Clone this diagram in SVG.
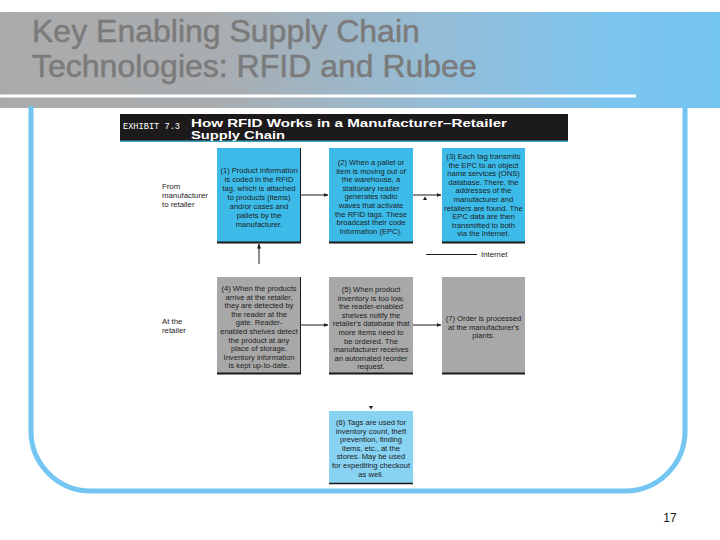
<svg xmlns="http://www.w3.org/2000/svg" width="720" height="540" viewBox="0 0 720 540">
<defs>
<linearGradient id="hdr" x1="0" y1="0" x2="1" y2="0">
<stop offset="0" stop-color="#aaaaaa"/>
<stop offset="0.3" stop-color="#a9adb0"/>
<stop offset="0.6" stop-color="#95bcd6"/>
<stop offset="0.85" stop-color="#7cc4ee"/>
<stop offset="1" stop-color="#74c4f1"/>
</linearGradient>
<marker id="ah" viewBox="0 0 10 10" refX="9" refY="5" markerWidth="5" markerHeight="5" orient="auto" markerUnits="userSpaceOnUse">
<path d="M0,1 L10,5 L0,9 z" fill="#1a1a1a"/>
</marker>
<style>
.title{font-family:"Liberation Sans",Arial,sans-serif;font-size:32px;fill:#7b7b7b;stroke:#7b7b7b;stroke-width:0.5px}
.bt{font-family:"Liberation Sans",Arial,sans-serif;font-size:7.6px;fill:#1c1c1c;text-anchor:middle}
.lbl{font-family:"Liberation Sans",Arial,sans-serif;font-size:7.8px;fill:#1c1c1c}
.ex{font-family:"Liberation Sans",Arial,sans-serif;font-size:11.5px;font-weight:bold;fill:#ffffff}
.blue{fill:#3cbbe9}
.lblue{fill:#88d2f2}
.grey{fill:#a8a8a8}
.edge{stroke:#1a1a1a;fill:none}
.conn{stroke:#1a1a1a;stroke-width:1;fill:none}
</style>
</defs>

<!-- header -->
<rect x="0" y="12" width="720" height="96" fill="url(#hdr)"/>
<rect x="0" y="94.5" width="636" height="3" fill="#ffffff"/>
<text class="title" x="32" y="42">Key Enabling Supply Chain</text>
<text class="title" x="32" y="77">Technologies: RFID and Rubee</text>

<!-- frame -->
<path d="M31,106 V431 A60,60 0 0 0 91,491 H625 A60,60 0 0 0 685,431 V106" fill="none" stroke="#74c6f2" stroke-width="5"/>

<!-- exhibit header -->
<g id="exhibit">
<rect x="120" y="114" width="448" height="27" fill="#1c1a1a"/>
<rect x="120" y="140.5" width="448" height="1.5" fill="#3aa7c9"/>
<text x="123" y="128.5" font-family="Liberation Mono,monospace" font-size="9.5" fill="#ffffff" textLength="57" lengthAdjust="spacingAndGlyphs">EXHIBIT 7.3</text>
<text class="ex" x="191" y="126.5" textLength="316" lengthAdjust="spacingAndGlyphs">How RFID Works in a Manufacturer–Retailer</text>
<svg x="120" y="114" width="448" height="27" overflow="hidden">
<text class="ex" x="71" y="24.8" textLength="94" lengthAdjust="spacingAndGlyphs">Supply Chain</text>
</svg>
</g>

<!-- side labels -->
<g id="label-manufacturer">
<text class="lbl" x="162" y="189">From</text>
<text class="lbl" x="162" y="198">manufacturer</text>
<text class="lbl" x="162" y="207">to retailer</text>
</g>
<g id="label-retailer">
<text class="lbl" x="162" y="324">At the</text>
<text class="lbl" x="162" y="333">retailer</text>
</g>

<!-- box 1 -->
<g id="box1">
<rect class="blue" x="217" y="148" width="84" height="95"/>
<path class="edge" d="M300.5,148 V243" stroke-width="1"/>
<path class="edge" d="M217,242.5 H301" stroke-width="2"/>
<text class="bt" x="259" y="173">(1) Product information</text>
<text class="bt" x="259" y="182">is coded in the RFID</text>
<text class="bt" x="259" y="191">tag, which is attached</text>
<text class="bt" x="259" y="200">to products (items)</text>
<text class="bt" x="259" y="209">and/or cases and</text>
<text class="bt" x="259" y="218">pallets by the</text>
<text class="bt" x="259" y="227">manufacturer.</text>
</g>

<!-- box 2 -->
<g id="box2">
<rect class="blue" x="329" y="148" width="84" height="95"/>
<path class="edge" d="M329,242.5 H413" stroke-width="2"/>
<text class="bt" x="371" y="165">(2) When a pallet or</text>
<text class="bt" x="371" y="173.6">item is moving out of</text>
<text class="bt" x="371" y="182.2">the warehouse, a</text>
<text class="bt" x="371" y="190.8">stationary reader</text>
<text class="bt" x="371" y="199.4">generates radio</text>
<text class="bt" x="371" y="208">waves that activate</text>
<text class="bt" x="371" y="216.6">the RFID tags. These</text>
<text class="bt" x="371" y="225.2">broadcast their code</text>
<text class="bt" x="371" y="233.8">information (EPC).</text>
</g>

<!-- box 3 -->
<g id="box3">
<rect class="blue" x="442" y="148" width="83" height="95"/>
<path class="edge" d="M442,242.5 H525" stroke-width="2"/>
<text class="bt" x="483.5" y="159">(3) Each tag transmits</text>
<text class="bt" x="483.5" y="167.6">the EPC to an object</text>
<text class="bt" x="483.5" y="176.2">name services (ONS)</text>
<text class="bt" x="483.5" y="184.8">database. There, the</text>
<text class="bt" x="483.5" y="193.4">addresses of the</text>
<text class="bt" x="483.5" y="202">manufacturer and</text>
<text class="bt" x="483.5" y="210.6">retailers are found. The</text>
<text class="bt" x="483.5" y="219.2">EPC data are then</text>
<text class="bt" x="483.5" y="227.8">transmitted to both</text>
<text class="bt" x="483.5" y="236.4">via the Internet.</text>
</g>

<!-- box 4 -->
<g id="box4">
<rect class="grey" x="217" y="277" width="84" height="97"/>
<path class="edge" d="M300.5,277 V374" stroke-width="1"/>
<path class="edge" d="M217,373.5 H301" stroke-width="2"/>
<text class="bt" x="259" y="291">(4) When the products</text>
<text class="bt" x="259" y="299.6">arrive at the retailer,</text>
<text class="bt" x="259" y="308.2">they are detected by</text>
<text class="bt" x="259" y="316.8">the reader at the</text>
<text class="bt" x="259" y="325.4">gate. Reader-</text>
<text class="bt" x="259" y="334">enabled shelves detect</text>
<text class="bt" x="259" y="342.6">the product at any</text>
<text class="bt" x="259" y="351.2">place of storage.</text>
<text class="bt" x="259" y="359.8">Inventory information</text>
<text class="bt" x="259" y="368.4">is kept up-to-date.</text>
</g>

<!-- box 5 -->
<g id="box5">
<rect class="grey" x="329" y="277" width="84" height="97"/>
<path class="edge" d="M329,373.5 H413" stroke-width="2"/>
<text class="bt" x="371" y="292">(5) When product</text>
<text class="bt" x="371" y="300.6">inventory is too low,</text>
<text class="bt" x="371" y="309.2">the reader-enabled</text>
<text class="bt" x="371" y="317.8">shelves notify the</text>
<text class="bt" x="371" y="326.4">retailer's database that</text>
<text class="bt" x="371" y="335">more items need to</text>
<text class="bt" x="371" y="343.6">be ordered. The</text>
<text class="bt" x="371" y="352.2">manufacturer receives</text>
<text class="bt" x="371" y="360.8">an automated reorder</text>
<text class="bt" x="371" y="369.4">request.</text>
</g>

<!-- box 7 -->
<g id="box7">
<rect class="grey" x="442" y="277" width="83" height="97"/>
<path class="edge" d="M442,373.5 H525" stroke-width="2"/>
<text class="bt" x="483.5" y="321">(7) Order is processed</text>
<text class="bt" x="483.5" y="329.6">at the manufacturer's</text>
<text class="bt" x="483.5" y="338.2">plants.</text>
</g>

<!-- box 6 -->
<g id="box6">
<rect class="lblue" x="329" y="411" width="84" height="73"/>
<path class="edge" d="M329,483.5 H413" stroke-width="1.5"/>
<text class="bt" x="371" y="425">(6) Tags are used for</text>
<text class="bt" x="371" y="433.6">inventory count, theft</text>
<text class="bt" x="371" y="442.2">prevention, finding</text>
<text class="bt" x="371" y="450.8">items, etc., at the</text>
<text class="bt" x="371" y="459.4">stores. May be used</text>
<text class="bt" x="371" y="468">for expediting checkout</text>
<text class="bt" x="371" y="476.6">as well.</text>
</g>

<!-- internet label -->
<g id="internet">
<text class="lbl" x="481" y="257">Internet</text>
</g>

<!-- connectors -->
<g id="connectors">
<path class="conn" d="M301,195 H328" marker-end="url(#ah)"/>
<path class="conn" d="M413,195 H441" marker-end="url(#ah)"/>
<path class="conn" d="M259,264 V244" marker-end="url(#ah)"/>
<path class="conn" d="M301,325 H328" marker-end="url(#ah)"/>
<path class="conn" d="M413,325 H441" marker-end="url(#ah)"/>
<path class="conn" d="M426,254.5 H477"/>
<path d="M423,200 L425,196.5 L427,200 z" fill="#1a1a1a"/>
<path d="M369,406 L373,406 L371,409.5 z" fill="#1a1a1a"/>
</g>

<text x="670" y="522" font-family="Liberation Sans,Arial,sans-serif" font-size="12" fill="#1a1a1a" text-anchor="middle">17</text>
</svg>
